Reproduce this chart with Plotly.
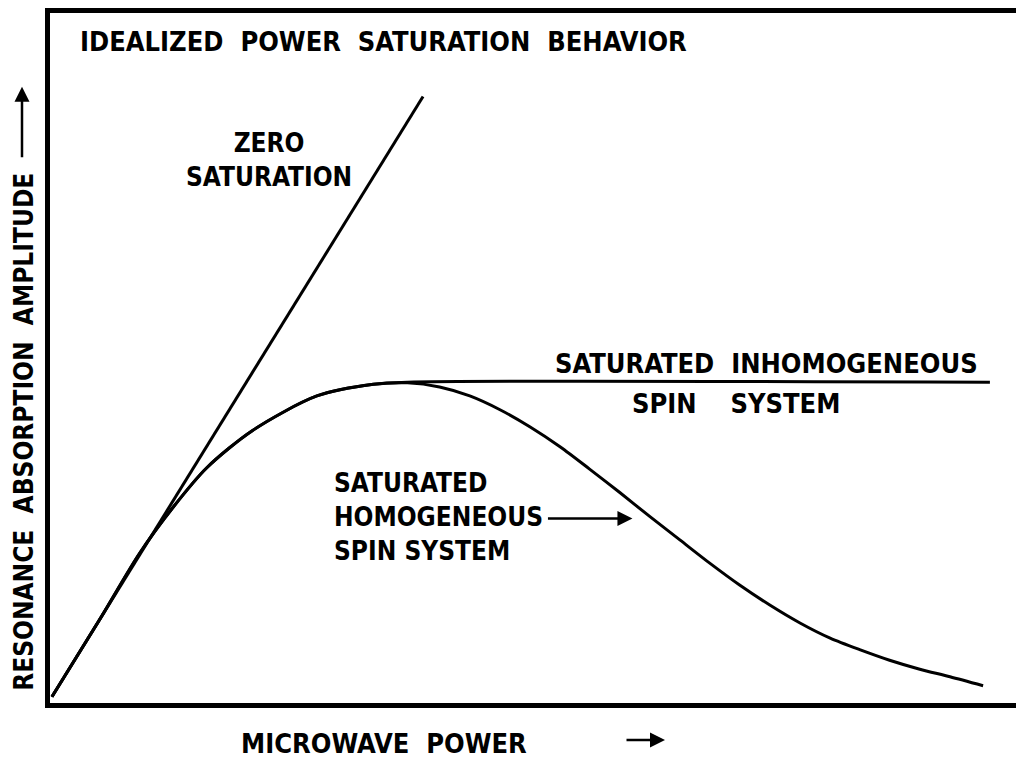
import plotly.graph_objects as go

# Idealized curves (x: microwave power, y: absorption amplitude; arbitrary units 0-100)
zero_x = [0.2, 38.3]
zero_y = [0.9, 87.9]

rise_x = [0.2, 5.1, 9.2, 12.6, 16.1, 20.8, 27.4, 33.2]
rise_y = [0.9, 12.1, 21.7, 28.3, 34.1, 39.5, 44.5, 46.2]

inhom_x = rise_x + [36.7, 96.5]
inhom_y = rise_y + [46.5, 46.5]

hom_x = rise_x + [36.7, 40.0, 43.1, 46.2, 49.3, 52.4, 55.4, 58.5, 61.6, 64.7, 67.8, 70.8,
                  73.9, 77.0, 80.1, 83.2, 86.2, 89.3, 92.4, 95.8]
hom_y = rise_y + [46.4, 45.8, 44.5, 42.5, 40.0, 37.1, 33.9, 30.5, 27.0, 23.6, 20.2, 17.1,
                  14.2, 11.6, 9.4, 7.7, 6.2, 4.9, 3.8, 2.5]

FONT = "Liberation Sans Narrow, DejaVu Sans Condensed, Arial Narrow, sans-serif"
NB = "\u00a0"

fig = go.Figure()
line = dict(color="black", width=3, shape="spline", smoothing=0.8)
fig.add_trace(go.Scatter(x=zero_x, y=zero_y, mode="lines", line=dict(color="black", width=3)))
fig.add_trace(go.Scatter(x=inhom_x, y=inhom_y, mode="lines", line=line))
fig.add_trace(go.Scatter(x=hom_x, y=hom_y, mode="lines", line=line))


def txt(x, y, s, size=27, xanchor="center", align="center"):
    fig.add_annotation(x=x, y=y, xref="x", yref="y", text=s, showarrow=False,
                       xanchor=xanchor, yanchor="middle", align=align, borderpad=0,
                       font=dict(family=FONT, size=size, color="black", weight="bold"))


def py(p):  # pixel row in the page -> data y
    return (703 - p) / 6.92


txt(3.0, 95.8, f"IDEALIZED{NB}{NB}POWER{NB}{NB}SATURATION{NB}{NB}BEHAVIOR", size=27, xanchor="left")
txt(22.5, py(158), "ZERO<br>SATURATION", size=26)
txt(73.6, 49.2, f"SATURATED{NB}{NB}INHOMOGENEOUS", size=27)
txt(70.4, 43.4, f"SPIN{NB}{NB}{NB}{NB}SYSTEM", size=27)
txt(29.1, py(516), "SATURATED<br>HOMOGENEOUS<br>SPIN SYSTEM", size=26, xanchor="left", align="left")

# arrow pointing at homogeneous curve
fig.add_annotation(x=59.8, y=py(518), xref="x", yref="y", ax=-86, ay=0, text="",
                   showarrow=True, arrowhead=2, arrowsize=1.2, arrowwidth=2.5, arrowcolor="black")

# axis titles as annotations
fig.add_annotation(x=(384 - 50) / 974, y=(703 - 744) / 692, xref="paper", yref="paper",
                   text=f"MICROWAVE{NB}{NB}POWER", showarrow=False, xanchor="center", yanchor="middle",
                   borderpad=0, font=dict(family=FONT, size=27, color="black", weight="bold"))
fig.add_annotation(x=(665 - 50) / 974, y=(703 - 740) / 692, xref="paper", yref="paper",
                   ax=-40, ay=0, text="", showarrow=True, arrowhead=2, arrowsize=1.2,
                   arrowwidth=2.5, arrowcolor="black")
fig.add_annotation(x=(24 - 50) / 974, y=(703 - 431) / 692, xref="paper", yref="paper",
                   text=f"RESONANCE{NB}{NB}ABSORPTION{NB}{NB}AMPLITUDE", textangle=-90, showarrow=False,
                   xanchor="center", yanchor="middle", borderpad=0,
                   font=dict(family=FONT, size=26, color="black", weight="bold"))
fig.add_annotation(x=(22 - 50) / 974, y=(703 - 85) / 692, xref="paper", yref="paper",
                   ax=0, ay=72, text="", showarrow=True, arrowhead=2, arrowsize=1.2,
                   arrowwidth=2.5, arrowcolor="black")

fig.update_xaxes(range=[0, 100], showgrid=False, zeroline=False, showticklabels=False, ticks="",
                 showline=True, linecolor="black", linewidth=5, mirror=True)
fig.update_yaxes(range=[0, 100], showgrid=False, zeroline=False, showticklabels=False, ticks="",
                 showline=True, linecolor="black", linewidth=5)
# page body has an 8px margin, so the figure is 1016x750 placed at (8, 8)
fig.update_layout(width=1016, height=750, margin=dict(l=42, r=0, t=3, b=55),
                  paper_bgcolor="white", plot_bgcolor="white", showlegend=False)

fig.write_html("out.html")
